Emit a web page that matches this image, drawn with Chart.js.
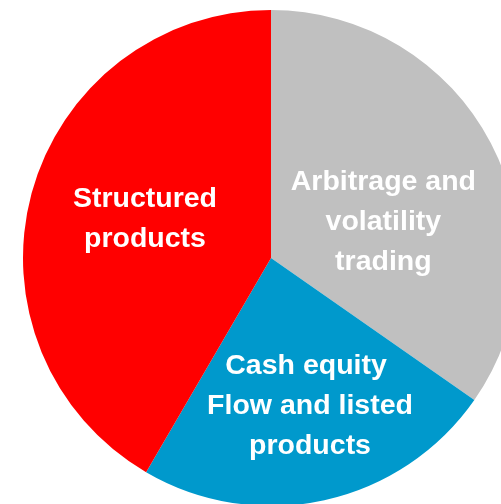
<!DOCTYPE html>
<html>
<head>
<meta charset="utf-8">
<script src="https://cdn.jsdelivr.net/npm/chart.js@4"></script>
<style>
    html, body { margin: 0; padding: 0; background: #fff; overflow: hidden; width: 501px; height: 504px; }
    #wrap { position: absolute; left: 0; top: 0; }
</style>
</head>
<body>
<div id="wrap"><canvas id="pieChart" width="542" height="516"></canvas></div>
<script>
// Slice order: clockwise from 12 o'clock
const categories = [
    ['Arbitrage and', 'volatility', 'trading'],
    ['Cash equity ', 'Flow and listed', 'products'],
    ['Structured', 'products']
];
const shares = [34.7, 23.7, 41.6];
const sliceColors = ['#C0C0C0', '#0099CC', '#FF0000'];

// label placement: fraction of radius, and turn (degrees) from the slice mid-angle
const labelRadius = [0.479, 0.607, 0.535];
const labelTurn = [8.6, -2.6, 3.1];

const sliceLabels = {
    id: 'sliceLabels',
    afterDatasetsDraw(chart) {
        const ctx = chart.ctx;
        const meta = chart.getDatasetMeta(0);
        ctx.save();
        ctx.fillStyle = '#FFFFFF';
        ctx.font = 'bold 28.5px "Liberation Sans", Arial, sans-serif';
        ctx.textAlign = 'center';
        ctx.textBaseline = 'alphabetic';
        const lineH = 40;
        const capH = 20.4;
        meta.data.forEach((arc, i) => {
            const mid = (arc.startAngle + arc.endAngle) / 2 + labelTurn[i] * Math.PI / 180;
            const r = arc.outerRadius * labelRadius[i];
            const cx = arc.x + Math.cos(mid) * r;
            const cy = arc.y + Math.sin(mid) * r;
            const lines = categories[i];
            lines.forEach((t, j) => {
                const y = cy + capH / 2 + (j - (lines.length - 1) / 2) * lineH;
                ctx.fillText(t, cx, y);
            });
        });
        ctx.restore();
    }
};

const ctx = document.getElementById('pieChart').getContext('2d');
new Chart(ctx, {
    type: 'pie',
    data: {
        labels: categories.map(l => l.join(' ')),
        datasets: [{
            data: shares,
            backgroundColor: sliceColors,
            borderWidth: 0
        }]
    },
    options: {
        responsive: false,
        animation: false,
        layout: { padding: 10 },
        plugins: {
            legend: { display: false },
            tooltip: { enabled: false }
        }
    },
    plugins: [sliceLabels]
});
</script>
</body>
</html>
